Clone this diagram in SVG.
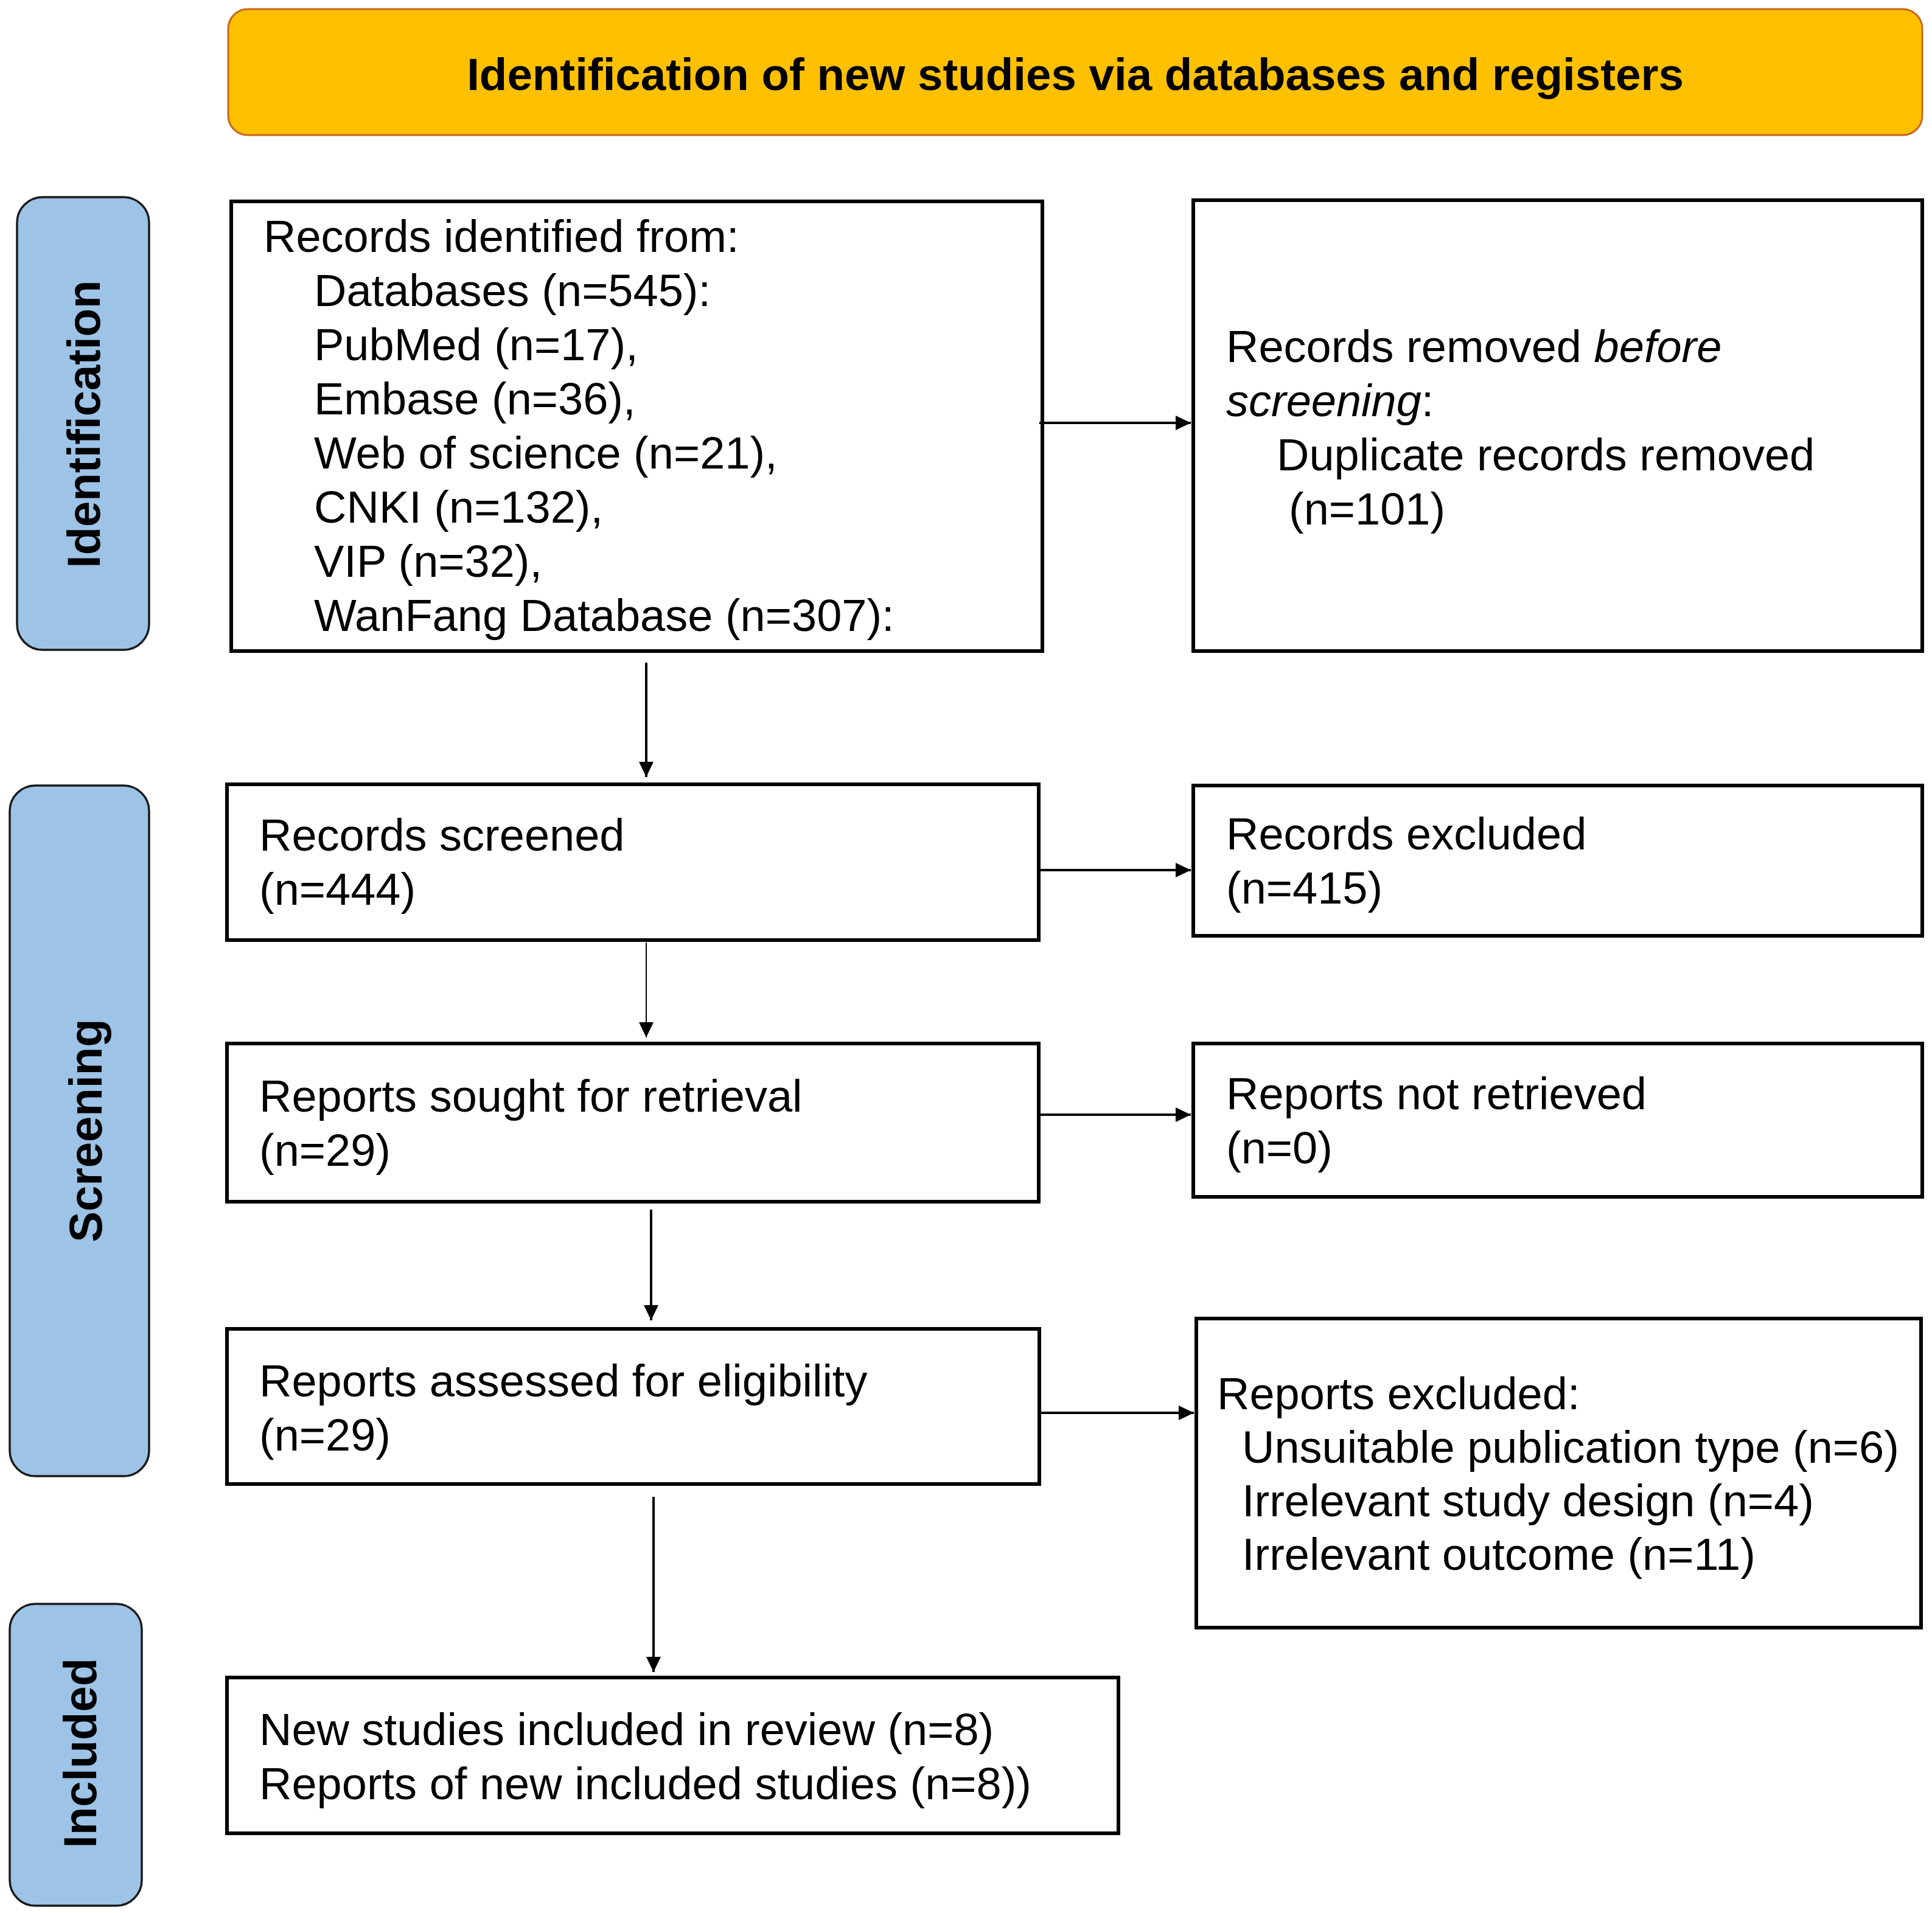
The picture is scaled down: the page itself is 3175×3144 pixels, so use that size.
<svg xmlns="http://www.w3.org/2000/svg" width="3175" height="3144" viewBox="0 0 3175 3144">
<defs>
<marker id="ah" markerUnits="userSpaceOnUse" markerWidth="26" markerHeight="26" refX="25" refY="12" orient="auto">
<path d="M0,0 L25,12 L0,24 z" fill="#000"/>
</marker>
</defs>
<style>
.box{fill:#fff;stroke:#000;stroke-width:6}
.side{fill:#9DC3E6;stroke:#1a1a1a;stroke-width:3.5}
.hdr{fill:#FFC000;stroke:#C8651B;stroke-width:3}
.t{font-family:"Liberation Sans",Arial,sans-serif;font-size:74px;fill:#000}
.b{font-family:"Liberation Sans",Arial,sans-serif;font-weight:bold;fill:#000}
.c{stroke:#000;stroke-width:4;fill:none}
.thin{stroke:#000;stroke-width:2;fill:none}
</style>
<rect width="3175" height="3144" fill="#fff"/>

<g id="header">
<rect class="hdr" x="375" y="15" width="2784" height="207" rx="32"/>
<text class="b" x="1767" y="148" font-size="74.5" text-anchor="middle">Identification of new studies via databases and registers</text>
</g>

<g id="phase-identification">
<rect class="side" x="28" y="324" width="217" height="744" rx="42"/>
<text class="b" font-size="76" text-anchor="middle" transform="translate(164,697) rotate(-90)">Identification</text>
</g>
<g id="phase-screening">
<rect class="side" x="16" y="1291" width="229" height="1135" rx="42"/>
<text class="b" font-size="76" text-anchor="middle" transform="translate(167,1858) rotate(-90)">Screening</text>
</g>
<g id="phase-included">
<rect class="side" x="16" y="2636" width="217" height="496" rx="42"/>
<text class="b" font-size="76" text-anchor="middle" transform="translate(158,2881) rotate(-90)">Included</text>
</g>

<g id="records-identified">
<rect class="box" x="380" y="331" width="1333" height="739"/>
<text class="t" x="433" y="414">Records identified from:</text>
<text class="t" x="516" y="503">Databases (n=545):</text>
<text class="t" x="516" y="592">PubMed (n=17),</text>
<text class="t" x="516" y="681">Embase (n=36),</text>
<text class="t" x="516" y="770">Web of science (n=21),</text>
<text class="t" x="516" y="859">CNKI (n=132),</text>
<text class="t" x="516" y="948">VIP (n=32),</text>
<text class="t" x="516" y="1037">WanFang Database (n=307):</text>
</g>

<g id="records-removed">
<rect class="box" x="1961" y="329" width="1198" height="741"/>
<text class="t" x="2015" y="595">Records removed <tspan font-style="italic">before</tspan></text>
<text class="t" x="2015" y="684"><tspan font-style="italic">screening</tspan>:</text>
<text class="t" x="2098" y="773">Duplicate records removed</text>
<text class="t" x="2118" y="862">(n=101)</text>
</g>

<g id="records-screened">
<rect class="box" x="373" y="1289" width="1334" height="256"/>
<text class="t" x="426" y="1398">Records screened</text>
<text class="t" x="426" y="1487">(n=444)</text>
</g>

<g id="records-excluded">
<rect class="box" x="1961" y="1291" width="1198" height="247"/>
<text class="t" x="2015" y="1396">Records excluded</text>
<text class="t" x="2015" y="1485">(n=415)</text>
</g>

<g id="reports-sought">
<rect class="box" x="373" y="1715" width="1334" height="260"/>
<text class="t" x="426" y="1827">Reports sought for retrieval</text>
<text class="t" x="426" y="1916">(n=29)</text>
</g>

<g id="reports-not-retrieved">
<rect class="box" x="1961" y="1715" width="1198" height="252"/>
<text class="t" x="2015" y="1823">Reports not retrieved</text>
<text class="t" x="2015" y="1912">(n=0)</text>
</g>

<g id="reports-assessed">
<rect class="box" x="373" y="2184" width="1335" height="255"/>
<text class="t" x="426" y="2295">Reports assessed for eligibility</text>
<text class="t" x="426" y="2384">(n=29)</text>
</g>

<g id="reports-excluded">
<rect class="box" x="1966" y="2167" width="1191" height="508"/>
<text class="t" x="2000" y="2316">Reports excluded:</text>
<text class="t" x="2041" y="2404">Unsuitable publication type (n=6)</text>
<text class="t" x="2041" y="2492">Irrelevant study design (n=4)</text>
<text class="t" x="2041" y="2580">Irrelevant outcome (n=11)</text>
</g>

<g id="included-studies">
<rect class="box" x="373" y="2757" width="1465" height="256"/>
<text class="t" x="426" y="2868">New studies included in review (n=8)</text>
<text class="t" x="426" y="2957">Reports of new included studies (n=8))</text>
</g>

<g id="connectors">
<line class="c" x1="1708" y1="695" x2="1957" y2="695" marker-end="url(#ah)"/>
<line class="c" x1="1062" y1="1089" x2="1062" y2="1277" marker-end="url(#ah)"/>
<line class="c" x1="1707" y1="1430" x2="1957" y2="1430" marker-end="url(#ah)"/>
<line class="thin" x1="1062" y1="1549" x2="1062" y2="1705" marker-end="url(#ah)"/>
<line class="c" x1="1707" y1="1832" x2="1957" y2="1832" marker-end="url(#ah)"/>
<line class="c" x1="1070" y1="1988" x2="1070" y2="2170" marker-end="url(#ah)"/>
<line class="c" x1="1708" y1="2322" x2="1962" y2="2322" marker-end="url(#ah)"/>
<line class="c" x1="1074" y1="2460" x2="1074" y2="2748" marker-end="url(#ah)"/>
</g>
</svg>
